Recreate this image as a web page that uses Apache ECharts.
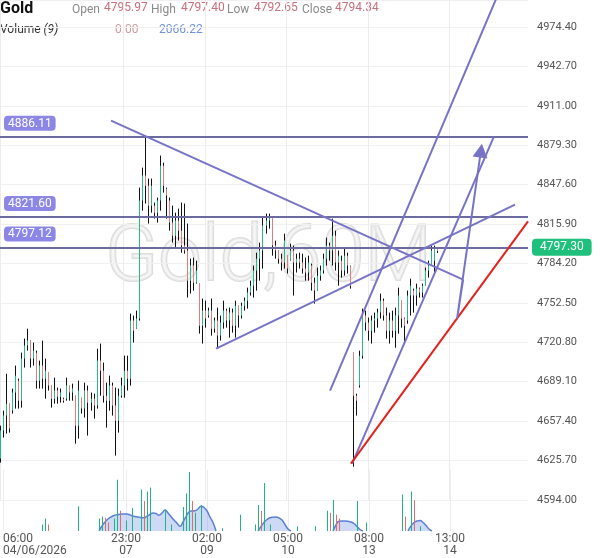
<!DOCTYPE html>
<html><head><meta charset="utf-8">
<script src="https://cdn.jsdelivr.net/npm/echarts@6/dist/echarts.min.js"></script>
<style>html,body{margin:0;padding:0;background:#fff}#c{width:600px;height:558px}</style>
</head><body><div id="c"></div>
<script>
// ---- candle data (60M Gold) ----
const openVals = [4627.3,4649.8,4661.9,4671.5,4665.9,4680.4,4690.0,4673.9,4707.7,4718.2,
4722.2,4707.7,4712.5,4690.0,4702.1,4691.6,4696.4,4686.0,4675.5,4682.0,
4677.1,4675.5,4675.5,4686.0,4680.4,4677.9,4653.8,4676.3,4667.5,4682.0,
4672.3,4675.5,4669.9,4706.1,4698.0,4677.9,4673.9,4686.0,4669.9,4657.8,
4677.9,4686.0,4698.0,4691.6,4738.3,4731.8,4739.9,4834.8,4854.9,4846.8,
4830.7,4830.7,4825.1,4834.8,4862.9,4844.4,4834.8,4817.1,4806.6,4818.7,
4810.6,4798.6,4794.6,4770.4,4782.5,4768.8,4768.0,4734.2,4746.3,4742.3,
4746.3,4731.8,4738.3,4726.2,4736.7,4746.3,4738.3,4744.7,4734.2,4750.3,
4742.3,4750.3,4754.3,4760.8,4766.4,4778.5,4788.1,4794.6,4814.7,4818.7,
4820.3,4798.6,4794.6,4788.1,4784.9,4790.5,4786.5,4794.6,4784.9,4788.1,
4784.9,4780.1,4776.9,4782.5,4768.8,4762.4,4774.4,4778.5,4788.1,4798.6,
4794.6,4806.6,4784.9,4786.5,4778.5,4790.5,4782.5,4712.5,4677.9,4686.0,
4710.1,4742.3,4736.7,4730.2,4738.3,4739.9,4744.7,4754.3,4742.3,4730.2,
4738.3,4730.2,4742.3,4754.3,4739.9,4738.3,4758.4,4762.4,4758.4,4764.0,
4760.8,4766.4,4778.5,4782.5,4786.5,4795.97];
const highVals = [4653.8,4665.9,4695.6,4671.5,4683.6,4702.1,4691.6,4712.5,4723.8,4731.8,
4722.2,4720.6,4714.1,4706.1,4722.2,4707.7,4696.4,4686.0,4692.4,4684.4,
4683.6,4676.3,4692.4,4686.0,4687.6,4677.9,4690.0,4676.3,4688.4,4686.0,
4680.4,4679.5,4715.7,4719.8,4704.5,4688.4,4694.0,4688.4,4684.4,4683.6,
4692.4,4710.1,4710.1,4743.9,4742.3,4746.3,4845.2,4861.3,4887.0,4852.5,
4852.5,4833.2,4837.2,4871.0,4865.3,4845.2,4837.2,4830.7,4825.1,4828.3,
4833.2,4832.4,4816.3,4788.1,4788.9,4786.5,4768.0,4756.0,4754.3,4748.7,
4756.0,4740.7,4748.7,4742.3,4754.3,4747.9,4748.7,4747.9,4754.3,4750.3,
4752.7,4756.8,4764.8,4770.4,4782.5,4792.9,4801.0,4821.1,4824.3,4824.3,
4820.3,4802.6,4794.6,4792.1,4808.2,4790.5,4800.2,4798.6,4792.1,4792.9,
4792.1,4788.9,4790.5,4784.1,4772.8,4780.9,4782.5,4792.1,4805.0,4801.0,
4820.3,4810.6,4794.6,4790.5,4796.2,4792.9,4782.5,4712.5,4679.5,4714.1,
4747.9,4746.3,4740.7,4742.3,4744.7,4747.9,4760.0,4756.0,4748.7,4744.7,
4746.3,4748.7,4764.8,4754.3,4740.7,4762.4,4772.0,4764.0,4768.0,4764.8,
4768.0,4780.9,4786.5,4798.6,4798.6,4797.40];
const lowVals = [4624.1,4644.2,4647.4,4648.2,4663.5,4667.5,4667.5,4668.3,4700.5,4714.1,
4700.5,4702.1,4683.6,4683.6,4683.6,4675.5,4682.0,4668.3,4671.5,4671.5,
4672.3,4672.3,4673.9,4673.9,4673.9,4639.3,4643.4,4663.5,4660.3,4645.8,
4665.9,4659.4,4667.5,4677.9,4672.3,4652.2,4665.9,4661.9,4629.7,4648.2,
4676.3,4676.3,4682.0,4686.0,4720.6,4731.8,4738.3,4826.7,4832.4,4816.3,
4825.1,4820.3,4817.1,4826.7,4841.2,4820.3,4810.6,4801.0,4797.0,4802.6,
4792.9,4792.1,4756.8,4760.0,4762.4,4768.0,4727.8,4719.8,4732.6,4740.7,
4726.2,4728.6,4716.5,4722.2,4731.8,4732.6,4724.6,4728.6,4724.6,4732.6,
4739.9,4746.3,4747.9,4758.4,4756.8,4762.4,4770.4,4780.1,4808.2,4812.2,
4790.5,4788.1,4784.1,4778.5,4780.1,4776.1,4786.5,4758.4,4776.9,4780.1,
4776.1,4770.4,4770.4,4762.4,4751.9,4762.4,4770.4,4776.1,4782.5,4786.5,
4782.5,4778.5,4766.4,4772.8,4774.4,4776.1,4764.0,4620.8,4661.9,4684.4,
4707.7,4730.2,4722.2,4719.8,4728.6,4732.6,4739.9,4738.3,4723.8,4719.8,
4724.6,4716.5,4727.8,4732.6,4720.6,4735.8,4742.3,4744.7,4750.3,4756.8,
4756.8,4766.4,4772.8,4782.5,4776.1,4792.65];
const closeVals = [4649.8,4661.9,4671.5,4651.4,4680.4,4694.0,4673.9,4707.7,4718.2,4722.2,
4707.7,4714.1,4690.0,4702.1,4691.6,4698.0,4686.0,4675.5,4682.0,4677.1,
4680.4,4673.9,4686.0,4680.4,4683.6,4653.8,4682.0,4667.5,4682.0,4672.3,
4675.5,4669.9,4706.1,4698.0,4677.9,4673.9,4686.0,4669.9,4657.8,4677.9,
4686.0,4698.0,4691.6,4738.3,4730.2,4739.9,4834.8,4854.9,4846.8,4830.7,
4846.8,4825.1,4834.8,4862.9,4846.8,4838.8,4817.1,4806.6,4818.7,4810.6,
4798.6,4794.6,4770.4,4782.5,4768.8,4778.5,4734.2,4746.3,4739.9,4746.3,
4731.8,4738.3,4726.2,4736.7,4746.3,4738.3,4744.7,4734.2,4750.3,4742.3,
4750.3,4754.3,4760.8,4766.4,4778.5,4788.1,4794.6,4814.7,4818.7,4820.3,
4798.6,4794.6,4788.1,4784.9,4802.6,4780.1,4794.6,4784.9,4788.1,4784.9,
4780.1,4776.9,4784.9,4768.8,4762.4,4774.4,4778.5,4788.1,4798.6,4794.6,
4806.6,4784.9,4790.5,4778.5,4790.5,4782.5,4766.4,4677.9,4673.9,4710.1,
4742.3,4736.7,4730.2,4738.3,4739.9,4744.7,4754.3,4742.3,4730.2,4738.3,
4730.2,4742.3,4758.4,4739.9,4734.2,4758.4,4766.4,4758.4,4764.0,4760.8,
4766.4,4778.5,4782.5,4794.6,4796.2,4794.34];

// ---- volume pane ----
const volIndex = [13,14,15,25,32,33,34,35,37,38,39,41,43,46,47,48,49,54,56,60,61,62,63,64,66,73,79,84,85,86,87,89,98,104,108,109,110,111,112,118,121,133,134,136,137,139];
const volValue = [660,1240,660,2480,1240,1440,1320,850,1240,5120,2020,1050,2290,4150,2990,3960,4350,2130,660,2400,3760,5900,2990,1820,2600,270,1630,660,2600,2020,4810,660,470,470,2020,1820,3100,1630,1240,2990,850,3650,1440,3960,3070,470];
const volUp =    [1,1,0,1,1,1,0,0,1,1,0,1,1,1,0,1,1,1,1,1,1,1,0,1,1,1,1,1,1,0,1,1,1,1,1,0,1,0,0,1,1,1,0,1,0,1];
const maIndex = [32,33,34,35,36,37,38,39,40,41,42,43,44,45,46,47,48,49,50,51,52,53,54,55,56,57,58,59,60,61,62,63,64,65,66,67,68,69,70,71,
 85,86,87,88,89,90,91,92,93,94,95,96,
 110,111,112,113,114,115,116,117,118,119,120,
 135,136,137,138,139,140,141,142,143];
const maValue = [0,500,900,1200,1400,1550,1630,1680,1700,1710,1650,1530,1450,1400,1350,1320,1480,1650,1800,1750,1580,1800,2100,1800,1440,1100,780,470,900,1440,1900,2000,2020,2200,2480,2350,2020,1400,850,0,
 0,450,850,1150,1320,1380,1400,1300,1090,650,200,0,
 0,600,970,1000,1000,970,900,750,450,150,0,
 0,500,850,1000,1050,850,550,200,0];

// ---- axes / labels ----
const slotCount = 176;
const timeLabelIdx = [0,41,68,95,122,149];
const timeLabels = ['06:00\n04/06/2026','23:00\n07','02:00\n09','05:00\n10','08:00\n13','13:00\n14'];
const priceMin = 4594.00, priceStep = 31.70, priceMax = 4996.10;
const levelVals = [4886.11, 4821.60, 4797.12];
const lastPrice = 4797.30;
const headerLabels = ['Open','High','Low','Close'];
const headerValues = ['4795.97','4797.40','4792.65','4794.34'];
const volumeHeader = ['0.00','2066.22'];

// ---- drawings (index, price) ----
const trendDown = [[36.8,4899.1],[153.5,4771.2]];
const trendUp = [[71.6,4715.7],[170.7,4831.5]];
const channelSteep = [[109.4,4682.0],[165.3,5002.0]];
const channelMid = [[116.7,4623.3],[163.7,4886.2]];
const redLine = [[116.3,4623.3],[175,4818.1]];
const arrowPath = [[153.5,4771.2],[151.5,4739.9],[159.4,4875.0]];

const cats = [];
for (let i = 0; i < slotCount; i++) { const k = timeLabelIdx.indexOf(i); cats.push(k >= 0 ? timeLabels[k] : ''); }
const showIdx = (idx) => timeLabelIdx.indexOf(idx) >= 0;

const candleData = openVals.map((o, i) => [i, o, closeVals[i], lowVals[i], highVals[i]]);
const volData = volIndex.map((ix, k) => [ix, volValue[k], volUp[k]]);
const maData = new Array(openVals.length).fill('-');
maIndex.forEach((ix, k) => { maData[ix] = maValue[k]; });

const GREEN = '#27b98a', RED = '#dd7f7f';
const LINEC = '#7773c6', LEVELC = '#6b6ba0';
const FONT = 'Roboto, "Noto Sans", sans-serif';

function renderCandle(params, api) {
  const i = api.value(0);
  const o = api.value(1), c = api.value(2), l = api.value(3), h = api.value(4);
  const pH = api.coord([i, h]), pL = api.coord([i, l]), pO = api.coord([i, o]), pC = api.coord([i, c]);
  const x = Math.round(pH[0]);
  const top = Math.min(pO[1], pC[1]), bot = Math.max(pO[1], pC[1]);
  return { type: 'group', children: [
    { type: 'line', shape: { x1: x + 0.5, y1: pH[1], x2: x + 0.5, y2: pL[1] }, style: { stroke: '#111', lineWidth: 1 } },
    { type: 'rect', shape: { x: x, y: top, width: 1, height: Math.max(bot - top, 1) }, style: { fill: c >= o ? GREEN : RED } }
  ]};
}
function renderVol(params, api) {
  const i = api.value(0), v = api.value(1), up = api.value(2);
  const p = api.coord([i, v]), b = api.coord([i, 0]);
  const x = Math.round(p[0]);
  return { type: 'rect', shape: { x: x, y: p[1], width: 1, height: b[1] - p[1] }, style: { fill: up ? '#1fb386' : '#d9706f' } };
}

function lineSeries(name, data, color, extra) {
  return Object.assign({ name, type: 'line', xAxisIndex: 2, yAxisIndex: 0, data, symbol: 'none', silent: true,
    lineStyle: { color, width: 2 }, itemStyle: { color }, z: 5, animation: false }, extra || {});
}

const graphics = [
  { type: 'text', x: 0, y: 1, style: { text: 'Gold', font: 'bold 16px ' + FONT, fill: '#111' } },
  { type: 'text', x: 105, y: 221, z: -1, style: { text: 'Gold,60M', font: '300 78px ' + FONT, fill: 'rgba(240,240,240,0.6)', stroke: '#dcdcdc', lineWidth: 2 } }
];
const hx = [[72,104],[151,181],[227,254],[302,335]];
headerLabels.forEach((t, k) => {
  graphics.push({ type: 'text', x: hx[k][0], y: 4, style: { text: t, font: '12px ' + FONT, fill: '#8a8a8a' } });
  graphics.push({ type: 'text', x: hx[k][1], y: 2, style: { text: headerValues[k], font: '12px ' + FONT, fill: '#c9707e' } });
});
graphics.push({ type: 'text', x: 0, y: 24, style: { text: '{a|Volume }{b|(9)}', rich: { a: { font: '12px ' + FONT, fill: '#333' }, b: { font: 'italic 12px ' + FONT, fill: '#333' } } } });
graphics.push({ type: 'text', x: 115, y: 24, style: { text: volumeHeader[0], font: '12px ' + FONT, fill: '#d09aa0' } });
graphics.push({ type: 'text', x: 159, y: 24, style: { text: volumeHeader[1], font: '12px ' + FONT, fill: '#7193d8' } });

const chart = echarts.init(document.getElementById('c'), null, { renderer: 'canvas' });
chart.setOption({
  animation: false,
  backgroundColor: '#fff',
  textStyle: { fontFamily: FONT },
  graphic: graphics,
  grid: [
    { left: 0, right: 72, top: 0, bottom: 58 },
    { left: 0, right: 72, top: 470, bottom: 27 }
  ],
  xAxis: [
    { gridIndex: 0, type: 'category', data: cats, boundaryGap: false, axisLine: { show: false }, axisTick: { show: false },
      axisLabel: { show: false }, splitLine: { show: true, interval: showIdx, lineStyle: { color: '#ececec' } } },
    { gridIndex: 1, type: 'category', data: cats, boundaryGap: false, axisLine: { show: false }, axisTick: { show: false },
      axisLabel: { show: true, interval: showIdx, color: '#555', fontSize: 12, lineHeight: 12, margin: 2, alignMinLabel: 'left', fontFamily: FONT },
      splitLine: { show: true, interval: showIdx, lineStyle: { color: '#ececec' } } },
    { gridIndex: 0, type: 'value', min: 0, max: slotCount - 1, show: false }
  ],
  yAxis: [
    { gridIndex: 0, type: 'value', position: 'right', min: priceMin, max: priceMax, interval: priceStep,
      axisLine: { show: false }, axisTick: { show: false },
      axisLabel: { color: '#555', fontSize: 11, margin: 9, fontFamily: FONT, showMaxLabel: false, formatter: v => v.toFixed(2) },
      splitLine: { lineStyle: { color: '#f0f0f0' } } },
    { gridIndex: 1, type: 'value', min: 0, max: 6100, show: false }
  ],
  series: [
    { name: 'Gold', type: 'custom', xAxisIndex: 0, yAxisIndex: 0, data: candleData, renderItem: renderCandle,
      encode: { x: 0, y: [1, 2, 3, 4] }, z: 3, clip: true },
    { name: 'MA', type: 'line', xAxisIndex: 1, yAxisIndex: 1, data: maData, smooth: 0.5, symbol: 'none',
      lineStyle: { color: '#5b7fd4', width: 1.5 }, areaStyle: { color: 'rgba(112,148,226,0.5)' }, z: 2 },
    { name: 'Volume', type: 'custom', xAxisIndex: 1, yAxisIndex: 1, data: volData, renderItem: renderVol,
      encode: { x: 0, y: 1 }, z: 3 },
    lineSeries('levels', [], LEVELC, {
      markLine: { silent: true, symbol: 'none', animation: false,
        lineStyle: { color: LEVELC, width: 2, type: 'solid' },
        label: { position: 'insideStartTop', distance: [4, 6], formatter: p => p.value.toFixed(2), color: '#fff', fontSize: 12,
          backgroundColor: '#8c86e6', padding: [2, 4, 1, 4], borderRadius: 4, fontFamily: FONT },
        data: levelVals.map(v => ({ yAxis: v })) } }),
    lineSeries('last', [], 'transparent', {
      markLine: { silent: true, symbol: 'none', animation: false,
        lineStyle: { color: 'rgba(0,0,0,0)', width: 1, type: 'solid' },
        label: { position: 'end', distance: 4, formatter: p => p.value.toFixed(2), color: '#fff', fontSize: 12,
          backgroundColor: '#1fc07b', padding: [3, 8, 2, 8], borderRadius: 4, fontFamily: FONT },
        data: [{ yAxis: lastPrice }] } }),
    lineSeries('trendDown', trendDown, LINEC),
    lineSeries('trendUp', trendUp, LINEC),
    lineSeries('channelSteep', channelSteep, LINEC),
    lineSeries('channelMid', channelMid, LINEC),
    lineSeries('redLine', redLine, '#e3231e'),
    lineSeries('arrow', arrowPath.map((p, k) => k === arrowPath.length - 1
      ? { value: p, symbol: 'triangle', symbolSize: [15, 14], symbolRotate: -8 } : { value: p }), LINEC)
  ]
});
</script></body></html>
